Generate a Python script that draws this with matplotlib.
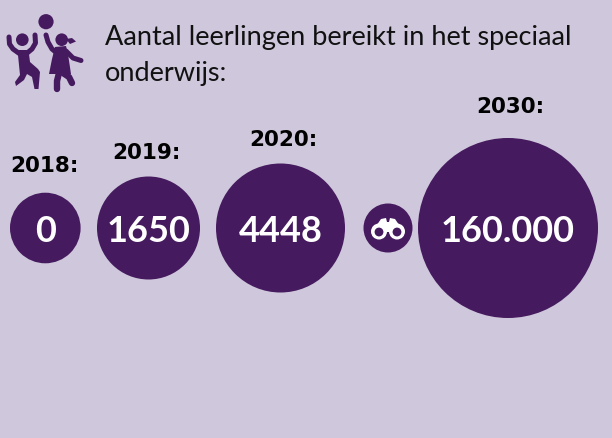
import matplotlib
matplotlib.use("Agg")
import matplotlib.pyplot as plt
from matplotlib.patches import Circle, Polygon
from matplotlib.lines import Line2D

purple = "#451a5e"
bg = "#cfc7dc"

years = ["2018:", "2019:", "2020:", "2030:"]
values = ["0", "1650", "4448", "160.000"]
title_lines = ["Aantal leerlingen bereikt in het speciaal", "onderwijs:"]

# pixel layout of the bubbles
centers = [45.3, 148.5, 280.5, 508]
radii = [35.3, 51.5, 64.5, 90]
year_x = [44, 146, 283, 510]
year_y = [166, 153, 140, 107]
cy = 229

fig = plt.figure(figsize=(6.12, 4.39), dpi=100)
fig.patch.set_facecolor(bg)
ax = fig.add_axes([0, 0, 1, 1])
ax.set_xlim(0, 612)
ax.set_ylim(439, 0)
ax.axis("off")

for i in range(len(values)):
    ax.add_patch(Circle((centers[i], cy), radii[i], color=purple, lw=0))
    ax.text(centers[i], cy + 3, values[i], ha="center", va="center", color="white",
            fontsize=26, fontweight="bold", family="Lato")
    ax.text(year_x[i], year_y[i], years[i], ha="center", va="center", color="black",
            fontsize=15.5, fontweight="bold", family="DejaVu Sans")

ax.text(105, 38, title_lines[0], ha="left", va="center", fontsize=19.5,
        family="Lato", color="#111111")
ax.text(105, 73, title_lines[1], ha="left", va="center", fontsize=19.5,
        family="Lato", color="#111111")

# binoculars
ax.add_patch(Circle((388, cy), 24.5, color=purple, lw=0))
ax.add_patch(Polygon([(381, 220), (386, 219), (387, 223), (389, 223), (390, 219), (395, 220),
                      (404, 233), (372, 233)], color="white", lw=0))
for bx in [379, 397]:
    ax.add_patch(Circle((bx, 232.5), 8, color="white", lw=0))
    ax.add_patch(Circle((bx, 233), 4.4, color=purple, lw=0))

# kids icon
ax.add_patch(Circle((46, 22.7), 7.6, color=purple, lw=0))
ax.add_patch(Circle((22.3, 40.7), 6.3, color=purple, lw=0))
ax.add_patch(Circle((61.7, 40.7), 6.3, color=purple, lw=0))


def limb(xs, ys, w):
    ax.add_line(Line2D(xs, ys, color=purple, lw=w, solid_capstyle="round", solid_joinstyle="round"))


# boy
limb([9, 9.5, 13, 20], [38, 45, 50, 55], 3.6)
limb([35, 35.5, 32, 26], [36, 44, 50, 55], 3.6)
ax.add_patch(Polygon([(17.5, 51), (28.5, 51), (30, 63), (38, 70), (40, 73), (38.5, 90), (34.5, 90),
                      (32, 78), (27, 75), (24, 81), (16, 87), (15, 83), (20, 76)],
                     color=purple, lw=0))
# girl
limb([46, 48, 52, 58], [36, 43, 50, 55], 3.6)
limb([66, 73, 81], [52, 59, 61.5], 3.6)
ax.add_patch(Polygon([(55, 48), (66, 47), (68, 55), (71, 75), (49, 75), (52, 60)], color=purple, lw=0))
ax.add_patch(Polygon([(66, 40), (72, 39), (76, 42.5), (70, 45)], color=purple, lw=0))
limb([59, 57, 57], [74, 82, 90], 4.6)
limb([63, 69, 72], [74, 78, 84], 4.6)

fig.savefig("out.png", dpi=100, facecolor=bg)
